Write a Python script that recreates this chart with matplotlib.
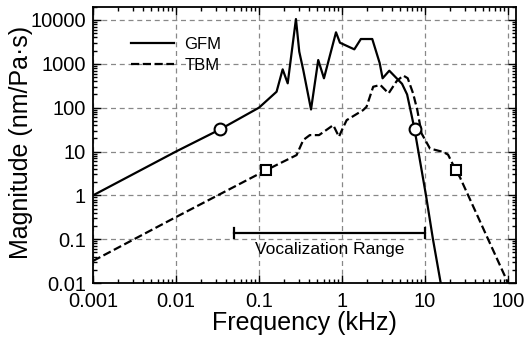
import numpy as np
import matplotlib.pyplot as plt
from matplotlib.ticker import LogLocator, NullFormatter

plt.rcParams['font.family'] = ['Liberation Sans', 'DejaVu Sans']

# GFM response (kHz, nm/Pa·s)
gfm_freq = [0.001, 0.01, 0.034, 0.1, 0.163, 0.193, 0.222, 0.279, 0.306, 0.342,
            0.424, 0.518, 0.607, 0.848, 0.946, 1.41, 1.69, 2.32, 2.85, 3.09,
            3.72, 5.3, 6.1, 6.9, 7.5, 10.3, 12.5, 15.5]
gfm_mag = [1, 10, 32, 100, 231, 748, 359, 10500, 1890, 721,
           91, 1222, 468, 5230, 3030, 2140, 3680, 3680, 1040, 468,
           697, 350, 200, 68, 32, 1, 0.1, 0.01]

# TBM response
tbm_freq = [0.001, 0.01, 0.12, 0.284, 0.342, 0.41, 0.53, 0.786, 0.92, 1.0,
            1.14, 1.8, 1.98, 2.38, 2.9, 3.65, 4.55, 5.48, 6.2, 7.2,
            8.1, 9.1, 11.5, 16.5, 19, 23.6, 26.4, 95, 100]
tbm_mag = [0.032, 0.32, 3.7, 8.3, 18.3, 23.7, 23.7, 40, 21.7, 31,
           52, 88, 105, 300, 330, 212, 400, 540, 470, 212,
           88, 26, 11.7, 9.8, 8.5, 3.7, 2.6, 0.0126, 0.01]

gfm_mark_f = [0.034, 7.5]
gfm_mark_m = [32, 32]
tbm_mark_f = [0.12, 23.6]
tbm_mark_m = [3.7, 3.7]

voc_range = [0.05, 10]
voc_level = 0.14

fig = plt.figure(figsize=(5.27, 3.39), dpi=100)
ax = fig.add_axes([0.1765, 0.165, 0.8025, 0.815])

ax.plot(gfm_freq, gfm_mag, color='black', lw=1.6, label='GFM')
ax.plot(tbm_freq, tbm_mag, color='black', lw=1.6, ls='--', label='TBM')
ax.plot(gfm_mark_f, gfm_mark_m, 'o', ms=8.5, mfc='white', mec='black', mew=1.5)
ax.plot(tbm_mark_f, tbm_mark_m, 's', ms=7.5, mfc='white', mec='black', mew=1.5)

# vocalization range bar
ax.plot(voc_range, [voc_level, voc_level], color='black', lw=1.6)
for xv in voc_range:
    ax.plot([xv, xv], [voc_level * 0.76, voc_level * 1.32], color='black', lw=1.6)
ax.text(np.sqrt(voc_range[0] * voc_range[1]), 0.058, 'Vocalization Range',
        ha='center', va='center', fontsize=12.5)

ax.set_xscale('log')
ax.set_yscale('log')
ax.set_xlim(0.001, 125)
ax.set_ylim(0.01, 20000)

xt = [0.001, 0.01, 0.1, 1, 10, 100]
yt = [0.01, 0.1, 1, 10, 100, 1000, 10000]
ax.set_xticks(xt)
ax.set_xticklabels(['0.001', '0.01', '0.1', '1', '10', '100'])
ax.set_yticks(yt)
ax.set_yticklabels(['0.01', '0.1', '1', '10', '100', '1000', '10000'])
ax.xaxis.set_minor_locator(LogLocator(base=10, subs=np.arange(2, 10)))
ax.yaxis.set_minor_locator(LogLocator(base=10, subs=np.arange(2, 10)))
ax.xaxis.set_minor_formatter(NullFormatter())
ax.yaxis.set_minor_formatter(NullFormatter())

ax.tick_params(which='both', direction='in', top=True, right=True, width=1.0)
ax.tick_params(which='major', length=6, labelsize=14.5)
ax.tick_params(axis='x', which='major', pad=6.5)
ax.tick_params(axis='y', which='major', pad=5)
ax.tick_params(which='minor', length=3)
for s in ax.spines.values():
    s.set_linewidth(1.3)

ax.grid(True, which='major', color='#888888', ls=(0, (4, 3)), lw=0.9)

ax.set_xlabel('Frequency (kHz)', fontsize=18, labelpad=0)
ax.set_ylabel('Magnitude (nm/Pa·s)', fontsize=18)
ax.yaxis.set_label_coords(-0.142, 0.508)

ax.legend(loc='upper left', bbox_to_anchor=(0.09, 0.89), frameon=False,
          fontsize=12, handlelength=2.6, borderpad=0, borderaxespad=0,
          labelspacing=0.35, handletextpad=0.6)

fig.savefig('out.png', dpi=100)
